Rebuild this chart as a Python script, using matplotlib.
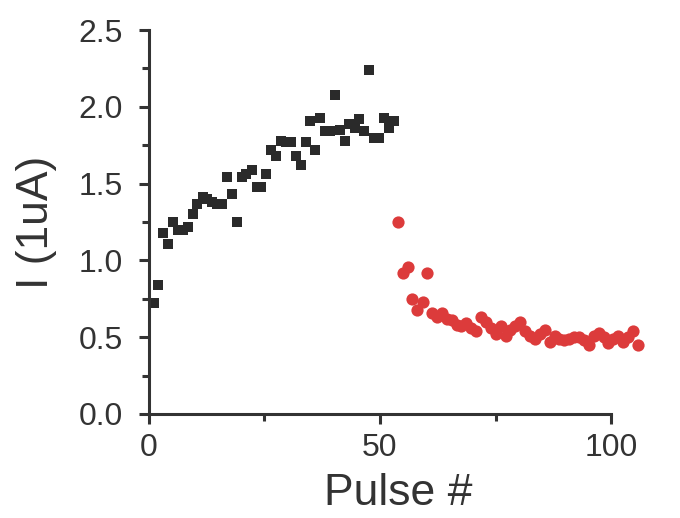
import numpy as np
import matplotlib.pyplot as plt

plt.rcParams['font.family'] = ['Liberation Sans', 'DejaVu Sans']

# set pulses (black squares)
set_x = [1.0, 2.0, 3.1, 4.2, 5.2, 6.3, 7.3, 8.4, 9.5, 10.5,
         11.6, 12.6, 13.7, 14.8, 15.8, 16.9, 18.0, 19.0, 20.1, 21.1,
         22.2, 23.3, 24.3, 25.4, 26.4, 27.5, 28.6, 29.6, 30.7, 31.8,
         32.8, 33.9, 34.9, 36.0, 37.1, 38.1, 39.2, 40.2, 41.3, 42.4,
         43.4, 44.5, 45.5, 46.6, 47.7, 48.7, 49.8, 50.8, 51.9, 53.0]
set_i = [0.72, 0.84, 1.18, 1.11, 1.25, 1.20, 1.20, 1.22, 1.30, 1.37,
         1.41, 1.40, 1.38, 1.37, 1.37, 1.54, 1.43, 1.25, 1.54, 1.56,
         1.59, 1.48, 1.48, 1.56, 1.72, 1.68, 1.78, 1.77, 1.77, 1.68,
         1.62, 1.77, 1.91, 1.72, 1.93, 1.84, 1.84, 2.08, 1.85, 1.78,
         1.89, 1.86, 1.92, 1.84, 2.24, 1.80, 1.80, 1.93, 1.86, 1.91]

# reset pulses (red circles)
reset_x = [53.9, 54.9, 56.0, 57.0, 58.1, 59.2, 60.2, 61.3, 62.3, 63.4,
           64.5, 65.5, 66.6, 67.6, 68.7, 69.8, 70.8, 71.9, 72.9, 74.0,
           75.1, 76.1, 77.2, 78.2, 79.3, 80.4, 81.4, 82.5, 83.5, 84.6,
           85.7, 86.7, 87.8, 88.8, 89.9, 91.0, 92.0, 93.1, 94.1, 95.2,
           96.3, 97.3, 98.4, 99.4, 100.5, 101.6, 102.6, 103.7, 104.7, 105.8]
reset_i = [1.25, 0.92, 0.96, 0.75, 0.68, 0.73, 0.92, 0.66, 0.63, 0.66,
           0.62, 0.61, 0.58, 0.57, 0.59, 0.56, 0.54, 0.63, 0.60, 0.56,
           0.52, 0.57, 0.51, 0.55, 0.57, 0.60, 0.54, 0.51, 0.49, 0.52,
           0.55, 0.47, 0.51, 0.49, 0.48, 0.49, 0.50, 0.50, 0.48, 0.45,
           0.51, 0.53, 0.50, 0.46, 0.49, 0.51, 0.47, 0.50, 0.54, 0.45]

fig = plt.figure(figsize=(6.8, 5.18), dpi=100)
ax = fig.add_axes([0.219, 0.2008, 0.734, 0.7412])

ax.plot(set_x, set_i, 's', color='#2a2a2a', markersize=7.8, markeredgewidth=0, clip_on=False)
ax.plot(reset_x, reset_i, 'o', color='#dc3b3b', markersize=8.8, markeredgewidth=0, clip_on=False)

ax.set_xlim(0, 108)
ax.set_ylim(0, 2.5)
ax.spines['top'].set_visible(False)
ax.spines['right'].set_visible(False)
ax.spines['bottom'].set_bounds(0, 100)
for s in ['left', 'bottom']:
    ax.spines[s].set_linewidth(2.2)
    ax.spines[s].set_color('#333333')

ax.set_xticks([0, 50, 100])
ax.set_xticks([25, 75], minor=True)
ax.set_yticks([0.0, 0.5, 1.0, 1.5, 2.0, 2.5])
ax.set_yticks([0.25, 0.75, 1.25, 1.75, 2.25], minor=True)
ax.set_yticklabels(['0.0', '0.5', '1.0', '1.5', '2.0', '2.5'])
ax.tick_params(which='major', length=7, width=2.2, color='#333333',
               labelsize=23, labelcolor='#333333')
ax.tick_params(which='minor', length=5, width=2.2, color='#333333')
ax.tick_params(axis='y', which='major', pad=12)
ax.tick_params(axis='x', which='major', pad=7)

ax.set_xlabel('Pulse #', fontsize=32, color='#333333', labelpad=7)
ax.set_ylabel('I (1uA)', fontsize=32, color='#333333', labelpad=15)

fig.savefig('out.png', dpi=100)
